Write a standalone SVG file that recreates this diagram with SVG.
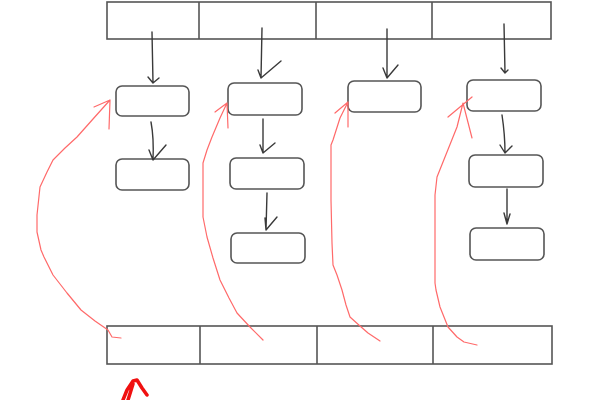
<svg xmlns="http://www.w3.org/2000/svg" width="600" height="400" viewBox="0 0 600 400">
<style>
.bar{fill:#fff;stroke:#555;stroke-width:1.6}
.div{stroke:#555;stroke-width:1.6}
.box{fill:#fff;stroke:#555;stroke-width:1.6}
.ln{fill:none;stroke:#3a3a3a;stroke-width:1.4;stroke-linecap:round;stroke-linejoin:round}
.red{fill:none;stroke:#ff6a6a;stroke-width:1.2;stroke-linecap:round;stroke-linejoin:round}
.redthick{fill:none;stroke:#f01010;stroke-width:3.5;stroke-linecap:round;stroke-linejoin:round}
</style>
<rect width="600" height="400" fill="#fff"/>
<g id="top-bar">
<rect class="bar" x="107" y="2" width="444" height="37"/>
<line class="div" x1="199" y1="2" x2="199" y2="39"/>
<line class="div" x1="316" y1="2" x2="316" y2="39"/>
<line class="div" x1="432" y1="2" x2="432" y2="39"/>
</g>
<g id="bottom-bar">
<rect class="bar" x="107" y="326" width="445" height="38"/>
<line class="div" x1="200" y1="326" x2="200" y2="364"/>
<line class="div" x1="317" y1="326" x2="317" y2="364"/>
<line class="div" x1="433" y1="326" x2="433" y2="364"/>
</g>
<g id="n1a"><rect class="box" x="116" y="86" width="73" height="30" rx="6"/></g>
<g id="n1b"><rect class="box" x="116" y="159" width="73" height="31" rx="6"/></g>
<g id="n2a"><rect class="box" x="228" y="83" width="74" height="32" rx="6"/></g>
<g id="n2b"><rect class="box" x="230" y="158" width="74" height="31" rx="6"/></g>
<g id="n2c"><rect class="box" x="231" y="233" width="74" height="30" rx="6"/></g>
<g id="n3a"><rect class="box" x="348" y="81" width="73" height="31" rx="6"/></g>
<g id="n4a"><rect class="box" x="467" y="80" width="74" height="31" rx="6"/></g>
<g id="n4b"><rect class="box" x="469" y="155" width="74" height="32" rx="6"/></g>
<g id="n4c"><rect class="box" x="470" y="228" width="74" height="32" rx="6"/></g>
<g id="connectors">
<path class="ln" d="M152 32 L153 83 M148 77 L153 83 L159 78"/>
<path class="ln" d="M262 28 L261 78 M258 70 L261 78 L281 61"/>
<path class="ln" d="M387 29 L387 78 M383 68 L387 78 L398 65"/>
<path class="ln" d="M504 24 L505 73 M501 68 L505 73 L508 70"/>
<path class="ln" d="M151 122 Q154 138 153 160 M149 150 L153 160 L166 145"/>
<path class="ln" d="M263 119 L263 153 M260 145 L263 153 L275 143"/>
<path class="ln" d="M267 193 L266 230 M265 218 L266 230 L277 217"/>
<path class="ln" d="M502 115 Q505 135 505 153 M500 145 L505 153 L512 146"/>
<path class="ln" d="M507 189 L507 224 M504 213 L507 224 L510 214"/>
<path class="red" d="M121 338 L112 337 L108 330 L95 321 L81 310 L67 293 L53 275 L44 257 L41 250 L37 232 L37 215 L40 187 L47 172 L53 160 L65 148 L77 137 L93 119 L110 100 M110 100 L109 129 M110 100 L94 107"/>
<path class="red" d="M263 340 L250 327 L237 313 L229 298 L220 280 L213 258 L207 237 L203 217 L203 190 L203 163 L207 150 L212 137 L220 118 L227 103 M227 103 L228 128 M227 103 L215 112"/>
<path class="red" d="M380 341 L368 333 L360 326 L350 317 L346 305 L342 290 L337 275 L333 265 L332 243 L331 200 L331 145 L333 140 L340 118 L348 102 M348 102 L348 127 M348 102 L335 113"/>
<path class="red" d="M477 345 L464 342 L457 337 L448 327 L440 307 L436 290 L435 283 L435 240 L435 195 L437 177 L447 152 L457 127 L463 103 M448 117 L472 97 M463 103 L472 138"/>
<path class="redthick" d="M123 400 L127 390 L133 381 L137 380 L142 388 L147 395 M128 400 L133 384"/>
</g>
</svg>
